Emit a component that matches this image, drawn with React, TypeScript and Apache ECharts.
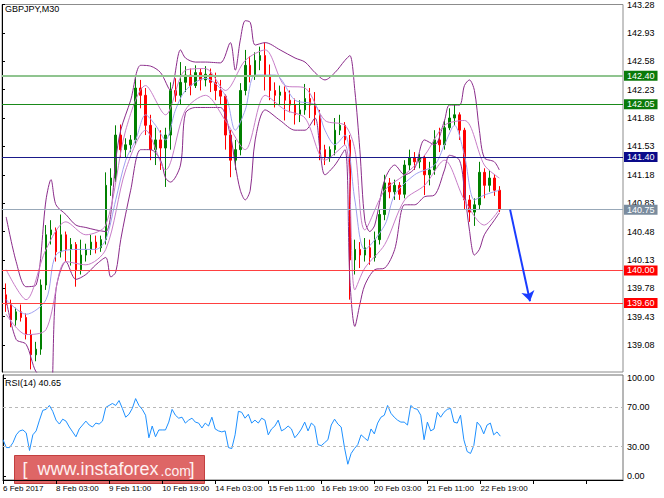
import React, { useEffect, useRef } from "react";
import * as echarts from "echarts";

// ---- time layout: M30 bar index; each drawn candle aggregates 6 bars ----
const CANDLE_BAR0 = 5;
const BARS_PER_CANDLE = 6;
const RSI_BARS_STEP = 4;

const xTickLabels = [
  "6 Feb 2017", "8 Feb 03:00", "9 Feb 11:00", "10 Feb 19:00", "14 Feb 03:00",
  "15 Feb 11:00", "16 Feb 19:00", "20 Feb 03:00", "21 Feb 11:00", "22 Feb 19:00",
];
const priceTicks = [143.28, 142.93, 142.58, 142.23, 141.88, 141.53, 141.18, 140.83, 140.48, 140.13, 139.78, 139.43, 139.08];
const rsiTicks = [0, 30, 70, 100];

const opens = [
  139.70, 139.58, 139.39, 139.49, 139.42, 139.21, 138.96, 139.03, 139.82, 140.44,
  140.50, 140.23, 140.44, 140.26, 140.32, 140.01, 140.19, 140.26, 140.35, 140.28,
  140.38, 141.05, 141.14, 141.67, 141.49, 141.55, 141.61, 142.25, 142.16, 141.79,
  141.49, 141.61, 141.51, 141.67, 142.22, 142.16, 142.32, 142.41, 142.28, 142.44,
  142.35, 142.42, 142.32, 142.22, 142.15, 141.67, 141.36, 141.49, 142.22, 142.53,
  142.41, 142.59, 142.65, 142.41, 142.22, 142.16, 142.20, 142.10, 142.04, 141.92,
  141.98, 142.12, 142.04, 141.92, 141.49, 141.39, 141.49, 141.73, 141.79, 141.61,
  140.13, 140.26, 140.19, 140.28, 140.16, 140.38, 140.69, 141.08, 140.97, 141.05,
  140.94, 141.30, 141.39, 141.34, 141.39, 141.18, 141.24, 141.61, 141.55, 141.76,
  141.88, 141.92, 141.73, 140.87, 140.72, 140.81, 141.21, 141.05, 141.14, 140.99,
];
const closes = [
  139.58, 139.39, 139.49, 139.42, 139.21, 138.96, 139.03, 139.82, 140.44, 140.50,
  140.23, 140.44, 140.26, 140.32, 140.01, 140.19, 140.26, 140.35, 140.28, 140.38,
  141.05, 141.14, 141.67, 141.49, 141.55, 141.61, 142.25, 142.16, 141.79, 141.49,
  141.61, 141.51, 141.67, 142.22, 142.16, 142.32, 142.41, 142.28, 142.44, 142.35,
  142.42, 142.32, 142.22, 142.15, 141.67, 141.36, 141.49, 142.22, 142.53, 142.41,
  142.59, 142.65, 142.41, 142.22, 142.16, 142.20, 142.10, 142.04, 141.92, 141.98,
  142.12, 142.04, 141.92, 141.49, 141.39, 141.49, 141.73, 141.79, 141.61, 140.13,
  140.26, 140.19, 140.28, 140.16, 140.38, 140.69, 141.08, 140.97, 141.05, 140.94,
  141.30, 141.39, 141.34, 141.39, 141.18, 141.24, 141.61, 141.55, 141.76, 141.88,
  141.92, 141.73, 140.87, 140.72, 140.81, 141.21, 141.05, 141.14, 140.99, 140.75,
];
const lows = [
  139.49, 139.30, 139.32, 139.37, 139.15, 138.78, 138.88, 138.96, 139.76, 140.32,
  140.11, 140.16, 140.11, 140.06, 139.80, 139.95, 140.11, 140.19, 140.21, 140.23,
  140.32, 140.92, 141.09, 141.39, 141.39, 141.46, 141.55, 142.00, 141.67, 141.36,
  141.30, 141.24, 141.03, 141.49, 142.08, 142.05, 142.20, 142.16, 142.25, 142.22,
  142.27, 142.20, 142.10, 142.05, 141.49, 141.15, 141.24, 141.42, 142.16, 142.32,
  142.35, 142.47, 142.22, 142.10, 142.01, 142.05, 141.85, 141.95, 141.80, 141.83,
  141.92, 141.88, 141.79, 141.36, 141.30, 141.34, 141.42, 141.67, 141.55, 139.64,
  139.95, 140.03, 140.11, 140.07, 140.11, 140.32, 140.62, 140.89, 140.87, 140.87,
  140.89, 141.24, 141.24, 141.26, 140.93, 141.05, 141.18, 141.46, 141.49, 141.73,
  141.79, 141.61, 140.75, 140.60, 140.55, 140.75, 140.89, 140.97, 140.92, 140.72,
];
const highs = [
  139.84, 139.64, 139.54, 139.58, 139.47, 139.27, 139.12, 139.89, 140.56, 140.62,
  140.53, 140.69, 140.48, 140.40, 140.35, 140.38, 140.33, 140.44, 140.43, 140.43,
  141.21, 141.26, 141.79, 141.80, 141.63, 141.67, 142.37, 142.35, 142.25, 141.92,
  141.76, 141.73, 141.76, 142.32, 142.37, 142.57, 142.52, 142.49, 142.53, 142.49,
  142.52, 142.49, 142.44, 142.35, 142.17, 141.73, 141.61, 142.31, 142.72, 142.64,
  142.69, 142.76, 142.81, 142.54, 142.32, 142.28, 142.27, 142.22, 142.12, 142.10,
  142.30, 142.25, 142.20, 141.98, 141.55, 141.53, 141.88, 141.92, 141.83, 141.67,
  140.38, 140.35, 140.40, 140.38, 140.48, 140.75, 141.18, 141.14, 141.12, 141.09,
  141.36, 141.49, 141.46, 141.44, 141.42, 141.34, 141.73, 141.76, 141.85, 142.00,
  142.04, 141.95, 141.76, 140.93, 140.89, 141.34, 141.26, 141.24, 141.19, 141.04,
];

// Bollinger bands: [candle index, price]
const outerUpper = [
  [0, 140.66], [2, 140.11], [4, 139.80], [6, 139.82], [8, 140.87], [9, 141.12], [10, 140.81], [12, 140.69],
  [14, 140.56], [16, 140.53], [18, 140.50], [20, 140.48], [21, 140.69], [22, 141.36], [23, 141.73], [25, 142.10],
  [27, 142.53], [29, 142.52], [31, 142.44], [33, 142.22], [35, 142.72], [36, 142.62], [38, 142.57], [40, 142.57],
  [43, 142.56], [45, 142.81], [46, 142.47], [47, 142.84], [48, 143.08], [49, 143.06], [50, 142.78], [52, 142.81],
  [55, 142.72], [58, 142.62], [60, 142.57], [62, 142.44], [64, 142.35], [66, 142.44], [68, 142.59], [69, 142.65],
  [70, 142.22], [71, 141.49], [72, 140.62], [73, 140.48], [74, 140.56], [76, 141.12], [78, 141.30], [80, 141.18],
  [82, 141.26], [84, 141.61], [86, 141.55], [88, 141.85], [89, 142.04], [91, 142.04], [92, 142.28], [93, 142.35],
  [94, 142.22], [95, 141.73], [96, 141.39], [98, 141.34], [99, 141.24],
];
const outerLower = [
  [0, 139.64], [2, 139.15], [4, 139.09], [6, 138.75], [8, 138.66], [9, 138.41], [10, 139.76], [12, 140.11],
  [14, 139.89], [16, 139.95], [18, 140.07], [20, 140.16], [21, 139.92], [22, 139.98], [23, 140.38], [25, 140.99],
  [27, 141.49], [29, 141.49], [31, 141.36], [32, 141.14], [33, 141.09], [35, 141.30], [36, 141.94], [38, 142.01],
  [40, 142.01], [43, 142.01], [45, 141.67], [46, 141.30], [47, 140.99], [48, 140.87], [49, 140.99], [50, 141.61],
  [52, 141.98], [55, 141.85], [58, 141.73], [60, 141.73], [62, 141.88], [63, 141.49], [64, 141.18], [66, 141.30],
  [68, 141.49], [69, 139.89], [70, 139.31], [71, 139.58], [72, 139.82], [74, 140.01], [76, 140.03], [78, 140.26],
  [80, 140.81], [82, 140.81], [84, 140.91], [86, 140.93], [88, 141.24], [89, 141.42], [91, 141.36], [92, 140.99],
  [93, 140.50], [94, 140.19], [95, 140.26], [96, 140.44], [98, 140.62], [99, 140.71],
];
const innerUpper = [
  [0, 140.01], [4, 139.64], [8, 140.26], [12, 140.60], [16, 140.44], [20, 140.56], [24, 141.73], [28, 142.28],
  [32, 141.92], [36, 142.47], [40, 142.49], [44, 142.22], [48, 142.59], [52, 142.72], [56, 142.28], [60, 142.25],
  [64, 141.85], [68, 141.79], [70, 141.49], [72, 140.50], [76, 140.99], [80, 141.18], [84, 141.42], [88, 141.79],
  [92, 141.85], [96, 141.30], [99, 141.14],
];
const innerLower = [
  [0, 139.46], [4, 139.21], [8, 139.27], [12, 140.11], [16, 140.07], [20, 140.26], [24, 141.24], [28, 141.73],
  [32, 141.24], [36, 141.98], [40, 142.16], [44, 141.85], [48, 141.49], [52, 142.16], [56, 141.98], [60, 141.88],
  [64, 141.36], [68, 141.55], [70, 139.76], [72, 140.03], [76, 140.32], [80, 140.87], [84, 141.05], [88, 141.36],
  [92, 140.87], [96, 140.56], [99, 140.75],
];
const middleBand = [
  [0, 139.64], [4, 139.46], [8, 139.64], [10, 140.19], [14, 140.26], [18, 140.26], [20, 140.38], [22, 140.87],
  [24, 141.36], [26, 141.61], [28, 141.92], [30, 141.79], [32, 141.61], [34, 141.98], [36, 142.22], [40, 142.37],
  [44, 142.16], [46, 141.73], [48, 141.98], [50, 142.41], [54, 142.41], [58, 142.10], [62, 142.04], [64, 141.73],
  [66, 141.55], [68, 141.67], [70, 140.87], [72, 140.26], [76, 140.56], [78, 140.93], [82, 141.18], [86, 141.30],
  [88, 141.55], [90, 141.79], [92, 141.42], [94, 140.87], [96, 140.93], [99, 140.99],
];

// RSI(14), one reading every 4 bars
const rsiValues = [
  37, 29, 29, 34, 42, 46, 47, 44, 26, 42, 46, 57, 67, 68, 72, 66, 57, 53, 58, 56,
  50, 45, 40, 48, 52, 56, 52, 50, 54, 53, 56, 70, 72, 74, 72, 77, 69, 60, 63, 69,
  79, 72, 68, 62, 39, 51, 40, 47, 47, 47, 55, 68, 62, 59, 60, 54, 57, 59, 55, 54,
  49, 54, 51, 60, 48, 46, 45, 46, 29, 28, 42, 66, 65, 59, 63, 54, 57, 54, 59, 57,
  42, 48, 51, 57, 46, 48, 51, 48, 39, 43, 48, 55, 46, 54, 51, 32, 31, 34, 37,
  52, 58, 53, 50, 29, 12, 23, 28, 32, 42, 39, 36, 48, 43, 54, 60, 62, 72, 64, 60,
  57, 55, 55, 52, 72, 69, 68, 62, 37, 55, 46, 48, 65, 60, 65, 68, 69, 55, 54, 62,
  37, 25, 23, 31, 55, 51, 43, 52, 54, 42, 45, 40.65,
];

const levels = [
  { value: 142.40, line: "#8fc48f", box: "#0a7a0a", width: 2 },
  { value: 142.05, line: "#1a8a1a", box: "#0a7a0a", width: 1 },
  { value: 141.40, line: "#1a1a8a", box: "#0a0a8a", width: 1 },
  { value: 140.75, line: "#98a8b8", box: "#7a8c9e", width: 1 },
  { value: 140.00, line: "#ff4040", box: "#ff0000", width: 1 },
  { value: 139.60, line: "#ff4040", box: "#ff0000", width: 1 },
];
const forecastFrom = [612, 140.75];
const forecastTo = [636, 139.62];

const FONT = "'Liberation Sans', Arial, sans-serif";

export default function App() {
  const ref = useRef<HTMLDivElement>(null);
  useEffect(() => {
    if (!ref.current) return;
    const chart = echarts.init(ref.current, undefined, { renderer: "svg" });
    const candleX = (i: number) => CANDLE_BAR0 + i * BARS_PER_CANDLE;
    const candles = opens.map((o, i) => [candleX(i), o, closes[i], lows[i], highs[i]]);
    const band = (pts: number[][]) => pts.map(([i, v]) => [candleX(i), v]);
    const lineSeries = (name: string, pts: number[][], color: string) => ({
      name, type: "line", xAxisIndex: 0, yAxisIndex: 0, data: band(pts), showSymbol: false, symbol: "none",
      smooth: 0.3, lineStyle: { color, width: 1 }, z: 3, silent: true,
    });
    const option: any = {
      animation: false,
      backgroundColor: "#ffffff",
      textStyle: { fontFamily: FONT },
      grid: [
        { left: 2, top: 4, width: 621, height: 368, show: true, borderColor: "#8c8c8c", borderWidth: 1 },
        { left: 2, top: 375, width: 621, height: 105, show: true, borderColor: "#6e6e6e", borderWidth: 1 },
      ],
      xAxis: [
        { type: "value", gridIndex: 0, min: 0, max: 748, interval: 64, axisLine: { show: false }, axisTick: { show: false }, axisLabel: { show: false }, splitLine: { show: false } },
        {
          type: "value", gridIndex: 1, min: 0, max: 748, interval: 64,
          axisLine: { show: true, onZero: false, lineStyle: { color: "#000" } },
          axisTick: { show: true, length: 4, lineStyle: { color: "#000" } },
          axisLabel: {
            formatter: (v: number) => xTickLabels[Math.round(v / 64)] ?? "",
            align: "left", fontSize: 8, color: "#000", margin: 4, showMaxLabel: false, fontFamily: FONT,
          },
          splitLine: { show: false },
        },
      ],
      yAxis: [
        {
          type: "value", gridIndex: 0, position: "right", min: 138.748, max: 143.28,
          axisLine: { show: true, lineStyle: { color: "#000" } },
          axisTick: { show: true, length: 3, customValues: priceTicks, lineStyle: { color: "#000" } },
          axisLabel: { customValues: priceTicks, formatter: (v: number) => v.toFixed(2), fontSize: 9, color: "#000", margin: 4, fontFamily: FONT },
          splitLine: { show: false },
        },
        {
          type: "value", gridIndex: 1, position: "right", min: -4.08, max: 103.06,
          axisLine: { show: true, lineStyle: { color: "#000" } },
          axisTick: { show: true, length: 3, customValues: rsiTicks, lineStyle: { color: "#000" } },
          axisLabel: { customValues: rsiTicks, formatter: (v: number) => v.toFixed(2), fontSize: 9, color: "#000", margin: 4, fontFamily: FONT },
          splitLine: { show: false },
        },
      ],
      series: [
        lineSeries("outerUpper", outerUpper, "#8a2b8a"),
        lineSeries("outerLower", outerLower, "#8a2b8a"),
        lineSeries("innerUpper", innerUpper, "#c77dc7"),
        lineSeries("innerLower", innerLower, "#c77dc7"),
        lineSeries("middle", middleBand, "#a0a0f0"),
        {
          name: "GBPJPY", type: "candlestick", xAxisIndex: 0, yAxisIndex: 0,
          data: candles, encode: { x: 0, y: [1, 2, 3, 4] }, barWidth: 2, z: 2,
          itemStyle: { color: "#008000", color0: "#ff0000", borderColor: "#008000", borderColor0: "#ff0000", borderWidth: 1 },
          markLine: {
            silent: true, symbol: "none", animation: false,
            data: levels.map((l) => ({
              yAxis: l.value,
              lineStyle: { color: l.line, width: l.width, type: "solid" },
              label: {
                show: true, position: "end", distance: 1, formatter: l.value.toFixed(2),
                backgroundColor: l.box, color: "#fff", fontSize: 9, padding: [1, 3, 0, 3], fontFamily: FONT,
              },
            })),
          },
        },
        {
          name: "forecast", type: "line", xAxisIndex: 0, yAxisIndex: 0, data: [], z: 5,
          markLine: {
            silent: true, symbol: ["none", "arrow"], symbolSize: 10, animation: false,
            lineStyle: { color: "#1a3cff", width: 2, type: "solid" },
            label: { show: false },
            data: [[{ coord: forecastFrom }, { coord: forecastTo }]],
          },
        },
        {
          name: "RSI", type: "line", xAxisIndex: 1, yAxisIndex: 1,
          data: rsiValues.map((v, k) => [k * RSI_BARS_STEP, v]),
          showSymbol: false, symbol: "none", lineStyle: { color: "#1e90ff", width: 1 },
          markLine: {
            silent: true, symbol: "none", animation: false, label: { show: false },
            lineStyle: { color: "#b8b8b8", width: 1, type: [3, 3] },
            data: [{ yAxis: 70 }, { yAxis: 30 }],
          },
        },
      ],
      graphic: [
        { type: "text", left: 5, top: 4, z: 50, style: { text: "GBPJPY,M30", fontSize: 9, fill: "#000", fontFamily: FONT } },
        { type: "text", left: 5, top: 378, z: 50, style: { text: "RSI(14) 40.65", fontSize: 9, fill: "#000", fontFamily: FONT } },
        {
          type: "group", left: 14, top: 455, z: 100,
          children: [
            { type: "rect", shape: { x: 0, y: 0, width: 190, height: 28 }, style: { fill: "rgba(214,64,64,0.8)", stroke: "rgba(190,50,50,0.9)", lineWidth: 1 } },
            { type: "text", x: 8, y: 4, style: { text: "[", fontSize: 18, fill: "#fff0f0", fontFamily: FONT } },
            { type: "text", x: 23, y: 4, style: { text: "www.instaforex", fontSize: 18, fill: "#fff0f0", fontFamily: FONT } },
            { type: "text", x: 146, y: 8, style: { text: ".com", fontSize: 14, fill: "#fff0f0", fontFamily: FONT } },
            { type: "text", x: 175, y: 4, style: { text: "]", fontSize: 18, fill: "#fff0f0", fontFamily: FONT } },
          ],
        },
      ],
    };
    chart.setOption(option);
    return () => chart.dispose();
  }, []);
  return <div ref={ref} style={{ width: 664, height: 498, position: "absolute", left: 0, top: 0 }} />;
}
